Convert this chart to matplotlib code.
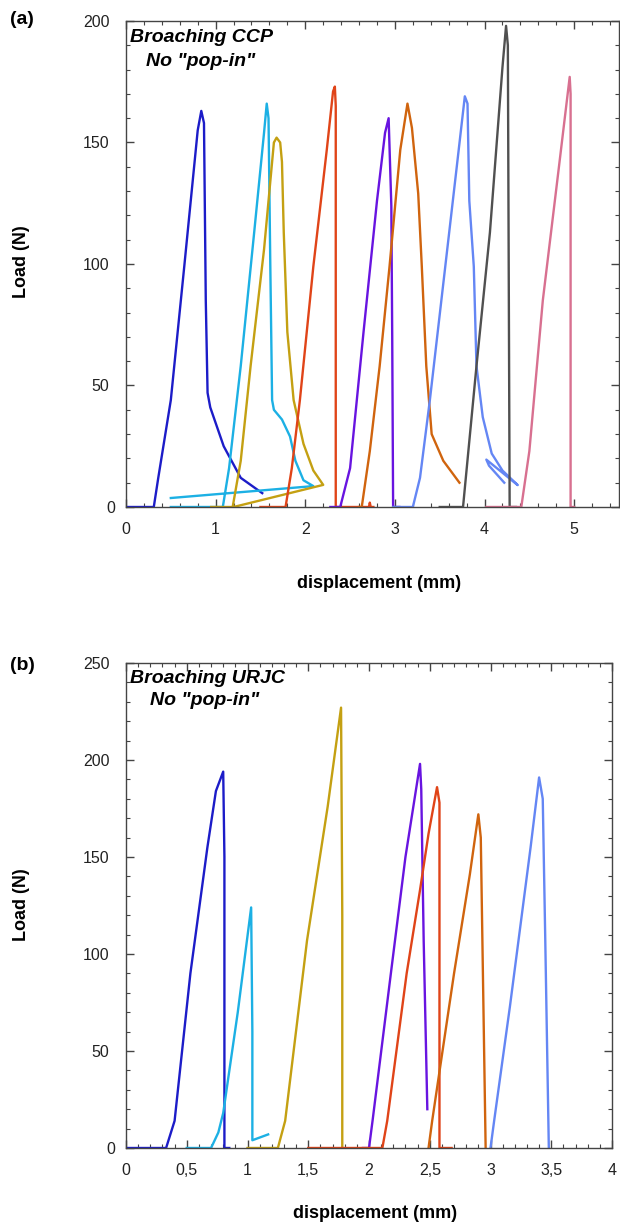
import matplotlib
matplotlib.use("Agg")
import matplotlib.pyplot as plt
import matplotlib.transforms as mtransforms
from matplotlib.ticker import MultipleLocator

plt.rcParams['font.family'] = ['Liberation Sans', 'DejaVu Sans']

# ---- panel (a): Broaching CCP ----
a_navy_x = [0.0, 0.31, 0.36, 0.50, 0.65, 0.80, 0.84, 0.87, 0.89, 0.91, 0.94, 1.09, 1.28, 1.52]
a_navy_y = [0, 0, 12, 44, 99, 155, 163, 158, 85, 47, 41, 25, 12, 5.7]

a_cyan_x = [0.50, 1.08, 1.15, 1.28, 1.43, 1.54, 1.57, 1.59, 1.61, 1.63, 1.65, 1.74, 1.83, 1.89, 1.98, 2.09, 0.50]
a_cyan_y = [0, 0, 16, 58, 113, 154, 166, 160, 99, 44, 40, 36, 29, 19, 11, 8.6, 3.7]

a_olive_x = [0.95, 1.19, 1.28, 1.39, 1.54, 1.65, 1.68, 1.72, 1.74, 1.76, 1.80, 1.87, 1.98, 2.09, 2.20, 1.20]
a_olive_y = [0, 0, 19, 58, 106, 150, 152, 150, 142, 113, 72, 44, 26, 15, 9.1, 0]

a_red_x = [1.50, 1.78, 1.85, 1.94, 2.09, 2.24, 2.31, 2.33, 2.34, 2.34, 2.71, 2.72, 2.73, 2.76]
a_red_y = [0, 0, 16, 44, 99, 147, 171, 173, 165, 0, 0, 1.8, 0, 0]

a_purple_x = [2.28, 2.39, 2.50, 2.65, 2.80, 2.89, 2.93, 2.96, 2.97, 2.98, 3.05]
a_purple_y = [0, 0, 16, 72, 126, 154, 160, 124, 70, 0, 0]

a_orange_x = [2.60, 2.63, 2.72, 2.83, 2.94, 3.06, 3.14, 3.19, 3.26, 3.30, 3.35, 3.41, 3.54, 3.72]
a_orange_y = [0, 0, 23, 58, 99, 147, 166, 156, 129, 99, 58, 30, 19, 10]

a_lblue_x = [2.98, 3.20, 3.28, 3.39, 3.54, 3.69, 3.78, 3.81, 3.83, 3.88, 3.91, 3.98, 4.08, 4.20, 4.37, 4.02, 4.05, 4.22]
a_lblue_y = [0, 0, 12, 44, 92, 140, 169, 166, 126, 99, 58, 37, 22, 15, 9, 19.5, 17, 10]

a_gray_x = [3.50, 3.76, 3.91, 4.06, 4.20, 4.24, 4.26, 4.28, 4.35]
a_gray_y = [0, 0, 58, 113, 181, 198, 190, 0, 0]

a_pink_x = [4.02, 4.41, 4.50, 4.65, 4.83, 4.95, 4.96, 4.96, 5.0]
a_pink_y = [0, 0, 23, 85, 140, 177, 170, 0, 0]

# ---- panel (b): Broaching URJC ----
b_navy_x = [0.0, 0.33, 0.40, 0.53, 0.67, 0.74, 0.80, 0.81, 0.81, 0.85]
b_navy_y = [0, 0, 14, 90, 155, 184, 194, 150, 0, 0]

b_cyan_x = [0.50, 0.70, 0.76, 0.80, 0.92, 1.03, 1.04, 1.04, 1.17]
b_cyan_y = [0, 0, 8, 18, 70, 124, 60, 4, 7]

b_olive_x = [1.00, 1.25, 1.31, 1.49, 1.66, 1.77, 1.78, 1.78]
b_olive_y = [0, 0, 14, 107, 176, 227, 120, 0]

b_purple_x = [1.95, 2.00, 2.03, 2.18, 2.30, 2.42, 2.43, 2.45, 2.48]
b_purple_y = [0, 0, 14.4, 90, 150, 198, 185, 107, 20]

b_red_x = [1.50, 2.11, 2.15, 2.31, 2.42, 2.49, 2.56, 2.58, 2.58, 2.68]
b_red_y = [0, 0, 14, 90, 133, 162, 186, 178, 0, 0]

b_orange_x = [2.49, 2.52, 2.70, 2.83, 2.90, 2.92, 2.94, 2.96]
b_orange_y = [0, 14, 90, 141, 172, 160, 80, 0]

b_lblue_x = [3.00, 3.03, 3.16, 3.33, 3.40, 3.43, 3.45, 3.48]
b_lblue_y = [0, 14, 73, 155, 191, 180, 110, 0]

b_xticks = [0, 0.5, 1, 1.5, 2, 2.5, 3, 3.5, 4]
b_xlabels = ['0', '0,5', '1', '1,5', '2', '2,5', '3', '3,5', '4']

C_NAVY = '#1c1cc8'
C_CYAN = '#1cb0e4'
C_OLIVE = '#c4a012'
C_RED = '#e04418'
C_PURPLE = '#6814e0'
C_ORANGE = '#d0640e'
C_LBLUE = '#6486f4'
C_GRAY = '#505050'
C_PINK = '#d87090'

W, H = 620, 1230
fig = plt.figure(figsize=(6.2, 12.3), dpi=100)
ax1 = fig.add_axes([126/W, 1-507/H, 493/W, 486/H])
ax2 = fig.add_axes([126/W, 1-1148/H, 486/W, 485/H])

lw = 1.7
for x, y, c in [(a_navy_x, a_navy_y, C_NAVY), (a_cyan_x, a_cyan_y, C_CYAN),
                (a_olive_x, a_olive_y, C_OLIVE), (a_red_x, a_red_y, C_RED),
                (a_purple_x, a_purple_y, C_PURPLE), (a_orange_x, a_orange_y, C_ORANGE),
                (a_lblue_x, a_lblue_y, C_LBLUE), (a_gray_x, a_gray_y, C_GRAY),
                (a_pink_x, a_pink_y, C_PINK)]:
    ax1.plot(x, y, color=c, lw=lw, solid_joinstyle='round')

for x, y, c in [(b_navy_x, b_navy_y, C_NAVY), (b_cyan_x, b_cyan_y, C_CYAN),
                (b_olive_x, b_olive_y, C_OLIVE), (b_purple_x, b_purple_y, C_PURPLE),
                (b_red_x, b_red_y, C_RED), (b_orange_x, b_orange_y, C_ORANGE),
                (b_lblue_x, b_lblue_y, C_LBLUE)]:
    ax2.plot(x, y, color=c, lw=lw, solid_joinstyle='round')

ax1.set_xlim(0, 5.5)
ax1.set_ylim(0, 200)
ax1.xaxis.set_major_locator(MultipleLocator(1))
ax1.xaxis.set_minor_locator(MultipleLocator(0.2))
ax1.yaxis.set_major_locator(MultipleLocator(50))
ax1.yaxis.set_minor_locator(MultipleLocator(10))

ax2.set_xlim(0, 4)
ax2.set_ylim(0, 250)
ax2.set_xticks(b_xticks)
ax2.set_xticklabels(b_xlabels)
ax2.xaxis.set_minor_locator(MultipleLocator(0.1))
ax2.yaxis.set_major_locator(MultipleLocator(50))
ax2.yaxis.set_minor_locator(MultipleLocator(10))

for ax in (ax1, ax2):
    for s in ax.spines.values():
        s.set_color('#444444')
        s.set_linewidth(1.0)
    ax.tick_params(which='both', direction='in', top=True, right=True,
                   colors='#444444', labelcolor='#222222')
    ax.tick_params(which='major', length=6, width=1.0, labelsize=11.5)
    ax.tick_params(which='minor', length=3, width=0.8)
    ax.tick_params(axis='x', which='major', pad=11)
    ax.tick_params(axis='y', which='major', pad=12)

# the y "0" label sits closer to the axis than the others
fig.canvas.draw()
shift = mtransforms.ScaledTranslation(6/100, 0, fig.dpi_scale_trans)
for ax in (ax1, ax2):
    for lab in ax.get_yticklabels():
        if lab.get_text() == '0':
            lab.set_transform(lab.get_transform() + shift)

txt = dict(ha='center', va='baseline', fontsize=14, fontweight='bold', fontstyle='italic')
fig.text(202/W, 1-42/H, 'Broaching CCP', **txt)
fig.text(201/W, 1-66/H, 'No "pop-in"', **txt)
fig.text(207/W, 1-683/H, 'Broaching URJC', **txt)
fig.text(205/W, 1-705/H, 'No "pop-in"', **txt)

lab = dict(fontsize=13, fontweight='bold')
fig.text(379/W, 1-583/H, 'displacement (mm)', ha='center', va='center', **lab)
fig.text(375/W, 1-1213/H, 'displacement (mm)', ha='center', va='center', **lab)
fig.text(21/W, 1-262/H, 'Load (N)', ha='center', va='center', rotation=90, **lab)
fig.text(21/W, 1-905/H, 'Load (N)', ha='center', va='center', rotation=90, **lab)
fig.text(22/W, 1-20/H, '(a)', ha='center', va='center', fontsize=14, fontweight='bold')
fig.text(22/W, 1-665/H, '(b)', ha='center', va='center', fontsize=14, fontweight='bold')

fig.savefig('out.png', dpi=100)
